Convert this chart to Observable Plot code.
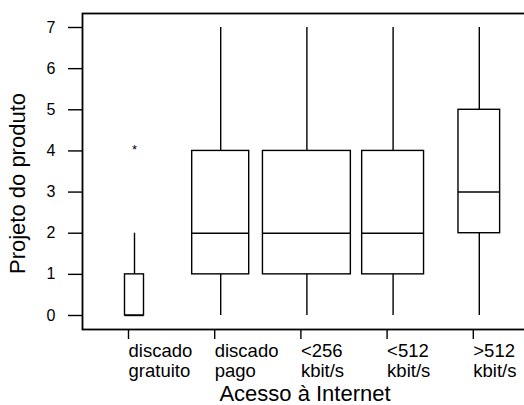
<!DOCTYPE html>
<html><head><meta charset="utf-8">
<script src="https://cdn.jsdelivr.net/npm/d3@7"></script>
<script src="https://cdn.jsdelivr.net/npm/@observablehq/plot@0.6"></script>
<style>body{margin:0;background:#fff} svg{display:block}</style>
</head><body><div id="chart"></div>
<script>
const categories = ["discado\ngratuito", "discado\npago", "<256\nkbit/s", "<512\nkbit/s", ">512\nkbit/s"];
const mins    = [0, 0, 0, 0, 0];
const q1s     = [0, 1, 1, 1, 2];
const medians = [0, 2, 2, 2, 3];
const q3s     = [1, 4, 4, 4, 5];
const maxs    = [2, 7, 7, 7, 7];
const groupSizes = [5, 45, 107, 53, 24];
const outlierCategory = [0];
const outlierValues = [4];
const yTicks = [0, 1, 2, 3, 4, 5, 6, 7];
const xTitle = "Acesso à Internet";
const yTitle = "Projeto do produto";

const widthPerSqrtN = 0.0986;
const rows = categories.map((c, i) => ({
  i, cat: c, min: mins[i], q1: q1s[i], med: medians[i], q3: q3s[i], max: maxs[i],
  half: widthPerSqrtN * Math.sqrt(groupSizes[i]) / 2
}));
const outliers = outlierCategory.map((c, k) => ({i: c, value: outlierValues[k]}));

const chart = Plot.plot({
  width: 524, height: 405,
  marginLeft: 82, marginTop: 13, marginBottom: 76, marginRight: -3,
  style: {fontFamily: "'Liberation Sans', Arial, sans-serif", fontSize: "16px", color: "#000", background: "#fff"},
  x: {type: "linear", domain: [0, 4], range: [134, 478.8], axis: null},
  y: {domain: [0, 7], range: [315, 27], axis: null},
  marks: [
    Plot.frame({stroke: "#000", strokeWidth: 1.8}),
    Plot.ruleX(rows, {x: "i", y1: "min", y2: "q1", stroke: "#000", strokeWidth: 1.4}),
    Plot.ruleX(rows, {x: "i", y1: "q3", y2: "max", stroke: "#000", strokeWidth: 1.4}),
    Plot.rect(rows, {x1: d => d.i - d.half, x2: d => d.i + d.half, y1: "q1", y2: "q3", fill: "white", stroke: "#000", strokeWidth: 1.4}),
    Plot.ruleY(rows, {y: "med", x1: d => d.i - d.half, x2: d => d.i + d.half, stroke: "#000", strokeWidth: 1.4}),
    Plot.text(outliers, {x: "i", y: "value", text: () => "*", fontSize: 13, dy: -1}),
    Plot.axisY({ticks: yTicks, tickFormat: d => String(d), tickSize: 14, tickPadding: 13, fontSize: 16, strokeWidth: 1.4, label: null}),
    Plot.axisX({ticks: [0, 1, 2, 3, 4], tickFormat: i => categories[i], tickSize: 10, tickPadding: 3,
      textAnchor: "start", dx: -6, fontSize: 18.5, lineHeight: 1.08, strokeWidth: 1.4, label: null}),
    Plot.text([xTitle], {text: d => d, frameAnchor: "bottom", lineAnchor: "bottom", dy: 71, fontSize: 22}),
    Plot.text([yTitle], {text: d => d, frameAnchor: "left", textAnchor: "middle", rotate: -90, dx: -65, dy: 12, fontSize: 22})
  ]
});
document.getElementById("chart").appendChild(chart);
</script>
</body></html>
